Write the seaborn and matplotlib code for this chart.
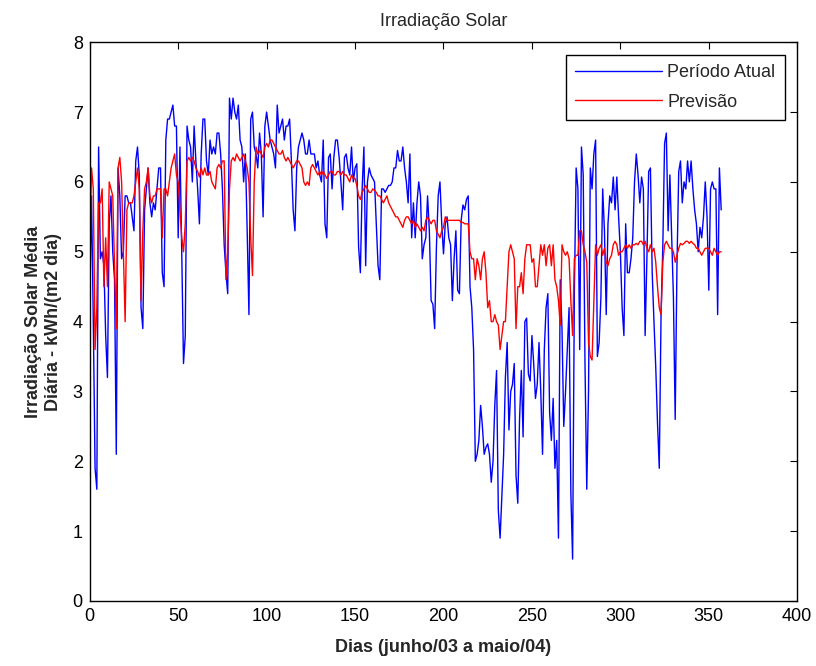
import numpy as np
import matplotlib
matplotlib.use("Agg")
import matplotlib.pyplot as plt
import seaborn as sns


periodo_atual = [
    4.3, 5.8, 4.0, 1.9, 1.6, 6.5, 4.9, 5.0, 4.8, 3.8,
    3.2, 5.4, 5.8, 5.0, 4.6, 2.1, 6.2, 5.8, 4.9, 5.0,
    5.8, 5.8, 5.7, 5.7, 5.5, 5.3, 6.3, 6.5, 6.1, 4.2,
    3.9, 5.6, 5.9, 6.2, 5.7, 5.5, 5.7, 5.6, 5.9, 6.2,
    6.2, 4.7, 4.5, 6.6, 6.9, 6.9, 7.0, 7.1, 6.8, 6.8,
    5.2, 6.5, 5.0, 3.4, 3.8, 6.8, 6.6, 6.5, 6.0, 6.8,
    6.3, 5.9, 5.4, 6.4, 6.9, 6.9, 6.3, 6.1, 6.6, 6.4,
    6.5, 6.4, 6.7, 6.7, 6.4, 5.9, 5.1, 4.7, 4.4, 7.2,
    6.9, 7.2, 7.0, 6.9, 7.1, 6.6, 6.5, 6.0, 6.4, 5.3,
    4.1, 6.9, 7.0, 6.5, 6.4, 6.2, 6.7, 6.4, 5.5, 6.8,
    7.0, 6.8, 6.6, 6.5, 6.4, 6.2, 7.1, 6.7, 6.8, 6.9,
    6.6, 6.8, 6.8, 6.9, 6.3, 5.6, 5.3, 6.2, 6.5, 6.6,
    6.7, 6.6, 6.4, 6.4, 6.6, 6.4, 6.4, 6.4, 6.2, 6.3,
    6.1, 6.0, 6.6, 5.4, 5.2, 6.35, 6.4, 5.9, 6.35, 6.6,
    6.6, 6.35, 6.0, 5.6, 6.35, 6.4, 6.2, 6.1, 6.5, 6.0,
    6.2, 6.26, 5.07, 4.7, 5.9, 6.5, 4.8, 6.0, 6.2, 6.1,
    6.05, 6.0, 5.4, 4.8, 4.6, 5.9, 5.9, 5.85, 5.9, 5.95,
    5.95, 6.0, 6.2, 6.2, 6.45, 6.3, 6.3, 6.5, 6.2, 6.0,
    5.7, 6.4, 5.2, 5.7, 5.2, 5.7, 6.0, 5.8, 4.9, 5.1,
    5.2, 5.8, 5.3, 4.3, 4.25, 3.9, 5.07, 5.8, 6.0, 5.4,
    4.97, 5.4, 5.5, 5.2, 5.1, 4.3, 4.9, 5.3, 4.45, 4.4,
    5.45, 5.67, 5.6, 5.75, 5.8, 4.5, 4.2, 3.6, 2.0, 2.1,
    2.3, 2.8, 2.5, 2.1, 2.2, 2.25, 2.1, 1.7, 2.0, 2.8,
    3.3, 1.3, 0.9, 1.5, 2.1, 3.2, 3.7, 2.45, 3.0, 3.1,
    3.4, 1.8, 1.4, 2.6, 3.3, 2.35, 4.0, 4.05, 3.25, 3.15,
    3.8, 3.4, 2.9, 3.1, 3.7, 3.0, 2.1, 3.6, 4.2, 4.4,
    2.7, 2.3, 2.9, 1.9, 2.3, 0.9, 4.6, 3.9, 2.5, 3.0,
    3.6, 4.2, 1.55, 0.6, 4.45, 6.2, 5.9, 3.6, 6.5, 6.1,
    3.4, 1.6, 3.0, 6.2, 5.9, 6.4, 6.6, 3.5, 3.7, 4.35,
    5.9, 5.3, 4.1, 5.4, 5.8, 5.7, 6.07, 5.6, 6.07, 5.5,
    5.0, 4.2, 3.8, 5.4, 4.7, 4.7, 4.9, 5.2, 6.0, 6.4,
    6.1, 5.7, 6.07, 5.9, 3.8, 4.9, 6.15, 6.2, 4.7, 4.0,
    3.35, 2.55, 1.9, 4.1, 5.07, 6.55, 6.7, 5.3, 6.1, 5.25,
    4.35, 2.6, 4.8, 6.15, 6.3, 5.7, 6.0, 5.9, 6.3, 6.0,
    6.3, 5.9, 5.6, 5.4, 5.0, 5.35, 5.2, 5.5, 6.0, 5.5,
    4.45, 5.9, 6.0, 5.9, 5.9, 4.1, 6.2, 5.6,
]

# previsão do modelo
previsao = [
    5.0, 6.2, 5.9, 3.6, 4.2, 5.7, 5.7, 5.9, 4.5, 5.2,
    4.5, 6.0, 5.9, 5.8, 4.8, 3.9, 6.2, 6.35, 6.0, 5.0,
    4.0, 5.6, 5.7, 5.7, 5.7, 5.8, 6.0, 6.2, 5.9, 4.3,
    5.3, 5.9, 6.0, 6.2, 5.8, 5.7, 5.8, 5.8, 5.9, 5.9,
    5.9, 5.2, 5.9, 5.9, 5.8, 6.0, 6.2, 6.3, 6.4, 6.1,
    6.0, 5.6, 5.2, 5.0, 5.4, 6.3, 6.35, 6.3, 6.35, 6.3,
    6.2, 6.15, 6.07, 6.2, 6.1, 6.2, 6.1, 6.1, 6.15, 6.0,
    5.95, 5.9, 6.2, 6.25, 6.2, 6.3, 6.3, 4.6, 5.0, 5.9,
    6.3, 6.35, 6.3, 6.4, 6.35, 6.3, 6.35, 6.4, 6.3, 6.2,
    6.0, 5.2, 4.66, 6.0, 6.5, 6.4, 6.45, 6.4, 6.35, 6.5,
    6.55, 6.5, 6.6, 6.6, 6.55, 6.5, 6.45, 6.4, 6.4, 6.45,
    6.35, 6.3, 6.35, 6.3, 6.25, 6.2, 6.25, 6.3, 6.3, 6.25,
    6.2, 6.0, 5.95, 6.0, 5.95, 6.2, 6.25, 6.2, 6.15, 6.1,
    6.15, 6.1, 6.15, 6.1, 6.05, 6.1, 6.15, 6.15, 6.1, 6.1,
    6.15, 6.15, 6.1, 6.15, 6.1, 6.1, 6.05, 6.0, 6.1, 6.05,
    6.05, 5.95, 5.8, 5.75, 5.85, 5.9, 5.95, 5.9, 5.85, 5.85,
    5.9, 5.88, 5.85, 5.8, 5.8, 5.75, 5.7, 5.75, 5.8, 5.7,
    5.65, 5.6, 5.55, 5.5, 5.5, 5.45, 5.4, 5.35, 5.45, 5.5,
    5.5, 5.45, 5.4, 5.45, 5.35, 5.4, 5.35, 5.3, 5.35, 5.3,
    5.45, 5.5, 5.45, 5.4, 5.45, 5.45, 5.3, 5.25, 5.2, 5.3,
    5.35, 5.5, 5.45, 5.45, 5.45, 5.45, 5.45, 5.45, 5.45, 5.45,
    5.42, 5.42, 5.4, 5.4, 5.4, 5.0, 4.9, 4.9, 4.6, 4.9,
    4.8, 4.6, 4.9, 5.0, 4.7, 4.2, 4.3, 4.0, 4.0, 4.1,
    4.0, 3.95, 3.6, 3.8, 4.0, 4.0, 4.5, 5.0, 5.1, 5.0,
    4.9, 3.9, 4.5, 4.5, 4.7, 4.4, 4.9, 5.1, 5.1, 5.1,
    4.85, 4.9, 4.5, 4.5, 4.8, 5.1, 4.95, 5.1, 4.8, 5.05,
    5.1, 4.8, 5.1, 4.6, 4.5, 4.3, 3.95, 5.1, 5.0, 4.95,
    5.0, 4.9, 4.3, 3.8, 4.9, 4.95, 4.95, 5.3, 5.3, 5.1,
    5.0, 4.85, 3.7, 3.5, 3.45, 4.3, 5.1, 4.95, 5.05, 5.1,
    4.95, 5.05, 4.85, 4.8, 4.9, 4.95, 5.1, 5.15, 5.1, 4.95,
    5.0, 5.0, 5.05, 5.1, 5.05, 5.1, 5.05, 5.1, 5.1, 5.12,
    5.1, 5.15, 5.15, 5.1, 5.15, 5.05, 5.0, 5.1, 5.0, 5.05,
    4.85, 4.5, 4.2, 4.1, 4.85, 5.1, 5.15, 5.1, 5.05, 5.05,
    5.0, 4.85, 4.95, 5.05, 5.12, 5.1, 5.12, 5.15, 5.15, 5.12,
    5.15, 5.12, 5.1, 5.05, 5.05, 5.0, 4.95, 5.0, 5.05, 5.05,
    5.05, 5.0, 4.95, 5.05, 5.0, 4.95, 5.0, 5.0,
]

dias = np.arange(len(periodo_atual))

sns.set_theme(style="white")
plt.rcParams["font.family"] = ["Liberation Sans", "DejaVu Sans"]

fig = plt.figure(figsize=(8.16, 6.66), dpi=100)
ax = fig.add_axes([0.110, 0.0976, 0.867, 0.839])

sns.lineplot(x=dias, y=periodo_atual, color="blue", linewidth=1, label="Período Atual", ax=ax)
sns.lineplot(x=dias, y=previsao, color="red", linewidth=1, label="Previsão", ax=ax)

ax.set_xlim(0, 400)
ax.set_ylim(0, 8)
ax.set_xticks(range(0, 401, 50))
ax.set_yticks(range(0, 9))
ax.tick_params(direction="in", length=5, width=0.8, top=True, right=True,
               labelsize=13, colors="black", pad=5)
for s in ax.spines.values():
    s.set_color("black")
    s.set_linewidth(1)

ax.set_title("Irradiação Solar", fontsize=13, pad=12)
ax.set_xlabel("Dias (junho/03 a maio/04)", fontsize=13, fontweight="bold", labelpad=10)
ax.set_ylabel("Irradiação Solar Média\nDiária - kWh/(m2 dia)", fontsize=13, fontweight="bold", labelpad=8)

leg = ax.legend(loc="upper right", fontsize=13, frameon=True, fancybox=False,
                edgecolor="black", handlelength=4.8, handletextpad=0.3,
                borderaxespad=0.7, labelspacing=0.7, borderpad=0.5)
leg.get_frame().set_linewidth(1)
leg.get_frame().set_alpha(1)

fig.savefig("out.png", dpi=100)
